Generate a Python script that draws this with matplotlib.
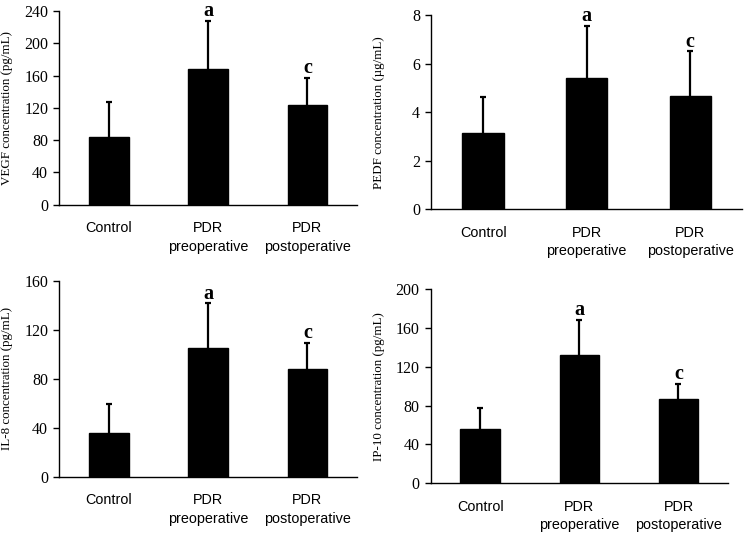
import matplotlib
matplotlib.use("Agg")
import matplotlib.pyplot as plt

categories = ["Control", "PDR\npreoperative", "PDR\npostoperative"]

vegf_mean = [83.9, 168.6, 123.5]
vegf_sd = [43.0, 59.4, 33.9]
pedf_mean = [3.13, 5.42, 4.68]
pedf_sd = [1.51, 2.14, 1.82]
il8_mean = [35.4, 105.5, 88.0]
il8_sd = [23.7, 36.2, 21.6]
ip10_mean = [55.9, 131.7, 87.1]
ip10_sd = [22.0, 36.4, 15.1]

sig_letters = ["", "a", "c"]

panels = [
    dict(mean=vegf_mean, sd=vegf_sd, ylabel="VEGF concentration (pg/mL)",
         ylim=240, yticks=[0, 40, 80, 120, 160, 200, 240],
         pos=[59.3, 357, 11, 204.7]),
    dict(mean=pedf_mean, sd=pedf_sd, ylabel="PEDF concentration (\u00b5g/mL)",
         ylim=8, yticks=[0, 2, 4, 6, 8],
         pos=[431.3, 742, 15, 209.3]),
    dict(mean=il8_mean, sd=il8_sd, ylabel="IL-8 concentration (pg/mL)",
         ylim=160, yticks=[0, 40, 80, 120, 160],
         pos=[59.3, 357, 281, 476.7]),
    dict(mean=ip10_mean, sd=ip10_sd, ylabel="IP-10 concentration (pg/mL)",
         ylim=200, yticks=[0, 40, 80, 120, 160, 200],
         pos=[430.7, 728, 289, 483.3]),
]

W, H = 748, 539
fig = plt.figure(figsize=(W / 100, H / 100), dpi=100)

serif = "Liberation Serif"
sans = "Liberation Sans"

for p in panels:
    x0, x1, ytop, ybot = p["pos"]
    ax = fig.add_axes([x0 / W, 1 - ybot / H, (x1 - x0) / W, (ybot - ytop) / H])
    xs = list(range(len(categories)))
    tops = [m + s for m, s in zip(p["mean"], p["sd"])]
    ax.bar(xs, p["mean"], width=0.4, color="black", edgecolor="black", zorder=2)
    ax.vlines(xs, p["mean"], tops, color="black", linewidth=1.6, zorder=1)
    ax.plot(xs, tops, linestyle="none", marker="_", markersize=5,
            markeredgewidth=1.6, color="black", zorder=1)
    ax.set_xlim(-0.5, 2.5)
    ax.set_ylim(0, p["ylim"])
    ax.set_yticks(p["yticks"])
    ax.set_yticklabels([str(t) for t in p["yticks"]], fontfamily=serif, fontsize=11.5)
    ax.set_xticks(xs)
    ax.set_xticklabels(categories, fontfamily=sans, fontsize=10.4, linespacing=1.4)
    ax.tick_params(axis="x", length=0, pad=12)
    ax.tick_params(axis="y", direction="out", length=4, width=1, pad=4)
    for s in ["top", "right"]:
        ax.spines[s].set_visible(False)
    for s in ["left", "bottom"]:
        ax.spines[s].set_linewidth(1)
    ax.set_ylabel(p["ylabel"], fontfamily=serif, fontsize=9.4)
    ax.yaxis.set_label_coords(-46 / (x1 - x0), 0.5)
    for x, top, lab in zip(xs, tops, sig_letters):
        if lab:
            ax.annotate(lab, (x, top), xytext=(0, 3.5), textcoords="offset points",
                        ha="center", va="baseline", fontfamily=serif,
                        fontweight="bold", fontsize=14.5)

fig.savefig("out.png", dpi=100)
